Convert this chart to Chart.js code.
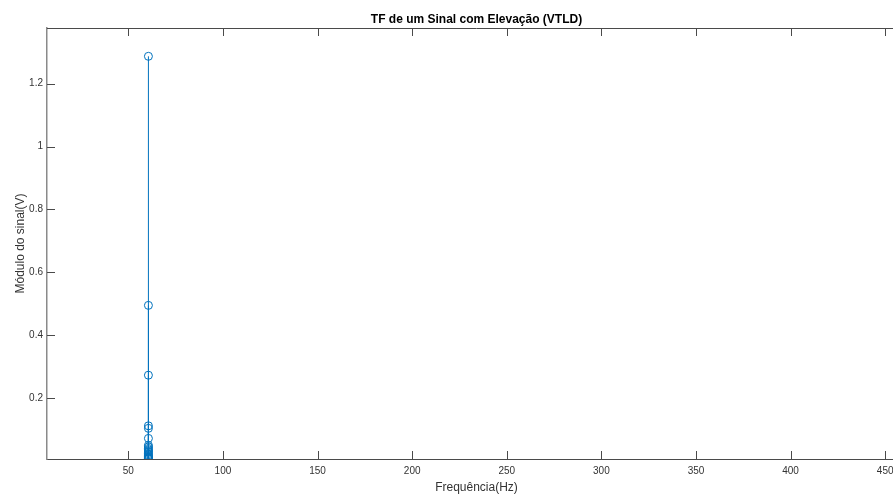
<!DOCTYPE html>
<html>
<head>
<meta charset="utf-8">
<script src="https://cdn.jsdelivr.net/npm/chart.js@4"></script>
<style>
  html, body { margin: 0; padding: 0; overflow: hidden; background: #fff; }
  #wrap { width: 953px; height: 495px; }
</style>
</head>
<body>
<div id="wrap"><canvas id="myChart" width="953" height="495"></canvas></div>
<script>
// Spectrum samples (Hz, V)
const freqs = [60.6, 60.6, 60.6, 60.6, 60.6, 60.6, 60.6, 60.6, 60.6, 60.6,
               60.6, 60.6, 60.6, 60.6, 60.6, 60.6, 60.6, 60.6, 60.6, 60.6];
const magnitudes = [1.287, 0.495, 0.273, 0.112, 0.104, 0.072, 0.050, 0.045, 0.040, 0.036,
                    0.032, 0.028, 0.024, 0.020, 0.017, 0.014, 0.012, 0.010, 0.008, 0.007];

// Axis ticks
const xTicks = [50, 100, 150, 200, 250, 300, 350, 400, 450];
const xTickLabels = ['50', '100', '150', '200', '250', '300', '350', '400', '450'];
const yTicks = [0.2, 0.4, 0.6, 0.8, 1, 1.2];
const yTickLabels = ['0.2', '0.4', '0.6', '0.8', '1', '1.2'];

const stemBase = 0;
const blue = '#0072BD';

// Markers
const points = freqs.map((f, i) => ({ x: f, y: magnitudes[i] }));
// Stems: base -> value, broken by gaps
const stems = [];
freqs.forEach((f, i) => {
    stems.push({ x: f, y: stemBase });
    stems.push({ x: f, y: magnitudes[i] });
    stems.push({ x: f, y: null });
});

// Inward tick marks + top box line
const axisTicks = {
    id: 'axisTicks',
    afterDraw(chart) {
        const ctx = chart.ctx;
        const a = chart.chartArea;
        const x = chart.scales.x, y = chart.scales.y;
        const len = 8;
        ctx.save();
        ctx.beginPath();
        ctx.rect(a.left, a.top - 1, a.right - a.left + 2, a.bottom - a.top + 2);
        ctx.clip();
        ctx.strokeStyle = '#4a4a4a';
        ctx.lineWidth = 1;
        ctx.beginPath();
        ctx.moveTo(a.left, a.top + 0.5);
        ctx.lineTo(a.right, a.top + 0.5);
        xTicks.forEach(v => {
            const px = Math.round(x.getPixelForValue(v)) + 0.5;
            ctx.moveTo(px, a.bottom);
            ctx.lineTo(px, a.bottom - len);
            ctx.moveTo(px, a.top);
            ctx.lineTo(px, a.top + len);
        });
        yTicks.forEach(v => {
            const py = Math.round(y.getPixelForValue(v)) + 0.5;
            ctx.moveTo(a.left, py);
            ctx.lineTo(a.left + len, py);
        });
        ctx.stroke();
        ctx.restore();
    }
};

const ctx = document.getElementById('myChart').getContext('2d');
const myChart = new Chart(ctx, {
    type: 'scatter',
    data: {
        datasets: [{
            label: 'stems',
            data: stems,
            showLine: true,
            spanGaps: false,
            borderColor: blue,
            borderWidth: 1,
            pointRadius: 0,
            pointHoverRadius: 0
        }, {
            label: 'magnitude',
            data: points,
            showLine: false,
            pointStyle: 'circle',
            pointRadius: 4,
            pointBorderColor: blue,
            pointBackgroundColor: 'rgba(0,0,0,0)',
            pointBorderWidth: 1
        }]
    },
    options: {
        responsive: false,
        animation: false,
        events: [],
        layout: { padding: 0 },
        plugins: {
            legend: { display: false },
            tooltip: { enabled: false },
            title: {
                display: true,
                text: 'TF de um Sinal com Elevação (VTLD)',
                color: '#000',
                font: { family: 'Liberation Sans', size: 12, weight: 'bold' },
                padding: { top: 12, bottom: 1.6 }
            }
        },
        scales: {
            x: {
                type: 'linear',
                min: 7,
                max: 461,
                afterBuildTicks: s => { s.ticks = xTicks.map(v => ({ value: v })); },
                afterFit: s => { s.height = 36; },
                grid: { display: false, drawTicks: false },
                border: { display: true, color: '#4a4a4a', width: 1 },
                ticks: {
                    padding: 6,
                    color: '#333',
                    font: { family: 'Liberation Sans', size: 10 },
                    maxRotation: 0,
                    callback: (v, i) => xTickLabels[i]
                },
                title: {
                    display: true,
                    text: 'Frequência(Hz)',
                    color: '#333',
                    font: { family: 'Liberation Sans', size: 12 },
                    padding: { top: 0, bottom: 0 }
                }
            },
            y: {
                type: 'linear',
                min: 0.0065,
                max: 1.377,
                afterBuildTicks: s => { s.ticks = yTicks.map(v => ({ value: v })); },
                afterFit: s => { s.width = 47; },
                grid: { display: false, drawTicks: false },
                border: { display: true, color: '#8a8a8a', width: 1.5 },
                ticks: {
                    padding: 4,
                    color: '#333',
                    font: { family: 'Liberation Sans', size: 10 },
                    callback: (v, i) => yTickLabels[i]
                },
                title: {
                    display: true,
                    text: 'Módulo do sinal(V)',
                    color: '#333',
                    font: { family: 'Liberation Sans', size: 12 },
                    padding: { top: 13, bottom: 0 }
                }
            },
            // empty right-hand strip beyond the visible plot edge
            yRight: {
                type: 'linear',
                position: 'right',
                display: true,
                afterFit: s => { s.width = 47; },
                grid: { display: false, drawTicks: false },
                border: { display: false },
                ticks: { display: false }
            }
        }
    },
    plugins: [axisTicks]
});
</script>
</body>
</html>
